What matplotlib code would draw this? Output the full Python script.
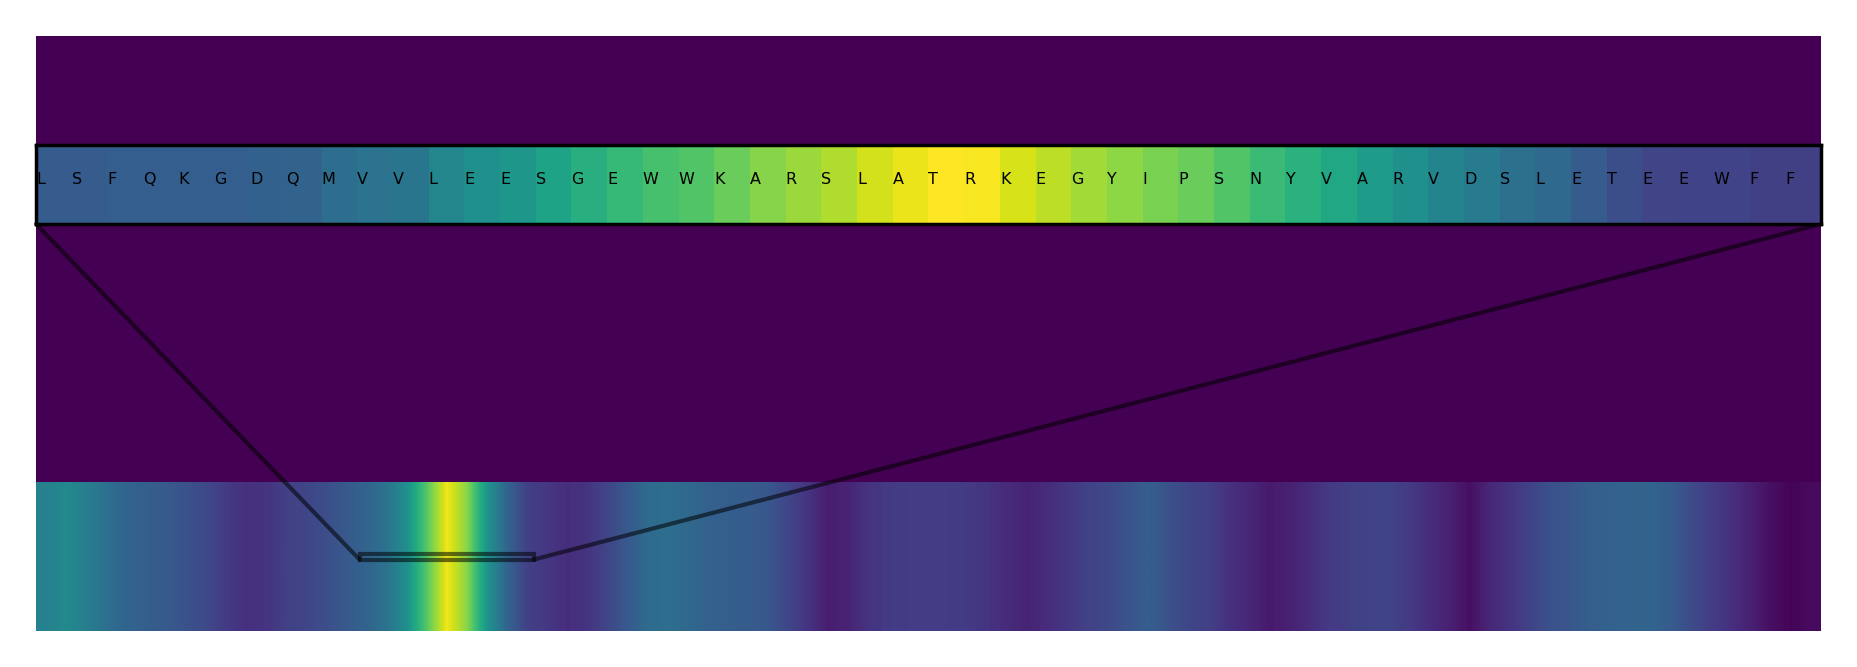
import numpy as np
import matplotlib
matplotlib.use("Agg")
import matplotlib.pyplot as plt
from matplotlib.patches import Rectangle, ConnectionPatch

SEQ_LEN = 513
WINDOW_START = 93
WINDOW_LEN = 50

# attention over the whole sequence (coarse, one value per ~5.8 residues)
band_attention = [
    0.44, 0.47, 0.43, 0.37, 0.32, 0.30, 0.28, 0.25, 0.22, 0.17,
    0.14, 0.15, 0.19, 0.21, 0.24, 0.28, 0.32, 0.38, 0.50, 0.74,
    0.98, 0.82, 0.52, 0.32, 0.19, 0.16, 0.13, 0.15, 0.21, 0.28,
    0.35, 0.36, 0.34, 0.31, 0.30, 0.29, 0.27, 0.21, 0.15, 0.08,
    0.10, 0.15, 0.17, 0.18, 0.18, 0.18, 0.17, 0.15, 0.12, 0.10,
    0.13, 0.16, 0.20, 0.22, 0.26, 0.30, 0.25, 0.21, 0.19, 0.14,
    0.11, 0.07, 0.09, 0.13, 0.17, 0.19, 0.20, 0.20, 0.17, 0.13,
    0.09, 0.04, 0.11, 0.15, 0.20, 0.25, 0.27, 0.30, 0.31, 0.32,
    0.32, 0.29, 0.23, 0.18, 0.14, 0.09, 0.04, 0.01, 0.03,
]

# zoomed window, one value per residue
window_residues = list("LSFQKGDQMVVLEESGEWWKARSLATRKEGYIPSNYVARVDSLETEEWFF")
window_attention = [
    0.29, 0.29, 0.30, 0.30, 0.30, 0.30, 0.31, 0.32, 0.36, 0.38,
    0.39, 0.46, 0.50, 0.53, 0.58, 0.63, 0.67, 0.71, 0.73, 0.77,
    0.82, 0.85, 0.88, 0.93, 0.97, 1.00, 0.99, 0.94, 0.90, 0.86,
    0.83, 0.80, 0.77, 0.73, 0.68, 0.64, 0.60, 0.55, 0.50, 0.45,
    0.41, 0.37, 0.34, 0.29, 0.24, 0.21, 0.20, 0.20, 0.19, 0.19,
]

cmap = plt.cm.viridis

fig = plt.figure(figsize=(18.57, 6.67), dpi=100)
ax = fig.add_axes([36 / 1857, 36 / 667, 1785 / 1857, 595 / 667])
ax.set_facecolor(cmap(0.0))
ax.imshow(np.array(band_attention)[None, :], extent=(0, SEQ_LEN, 0, 1),
          aspect='auto', cmap=cmap, vmin=0, vmax=1, interpolation='bilinear')
ax.set_xlim(0, SEQ_LEN)
ax.set_ylim(0, 4)
ax.set_xticks([])
ax.set_yticks([])
for s in ax.spines.values():
    s.set_visible(False)

axins = ax.inset_axes([0, 0.684, 1, 0.1328])
axins.imshow(np.array(window_attention)[None, :],
             extent=(WINDOW_START, WINDOW_START + WINDOW_LEN, 0, 1),
             aspect='auto', cmap=cmap, vmin=0, vmax=1, interpolation='nearest')
axins.set_xlim(WINDOW_START, WINDOW_START + WINDOW_LEN)
axins.set_ylim(0, 1)
axins.set_xticks([])
axins.set_yticks([])
for s in axins.spines.values():
    s.set_linewidth(2.5)
    s.set_color('black')
for i, aa in enumerate(window_residues):
    axins.text(WINDOW_START + i, 0.56, aa, ha='left', va='center', fontsize=11.5, color='black')

# box around the zoomed window on the full sequence
rect_y, rect_h = 0.48, 0.04
ax.add_patch(Rectangle((WINDOW_START, rect_y), WINDOW_LEN, rect_h, fill=False,
                       edgecolor='black', linewidth=3, alpha=0.55))
for corner, xb in [((0, 0), WINDOW_START), ((1, 0), WINDOW_START + WINDOW_LEN)]:
    con = ConnectionPatch(xyA=corner, coordsA=axins.transAxes,
                          xyB=(xb, rect_y), coordsB=ax.transData,
                          color='black', linewidth=3, alpha=0.55)
    ax.add_artist(con)

fig.savefig('out.png', dpi=100)
